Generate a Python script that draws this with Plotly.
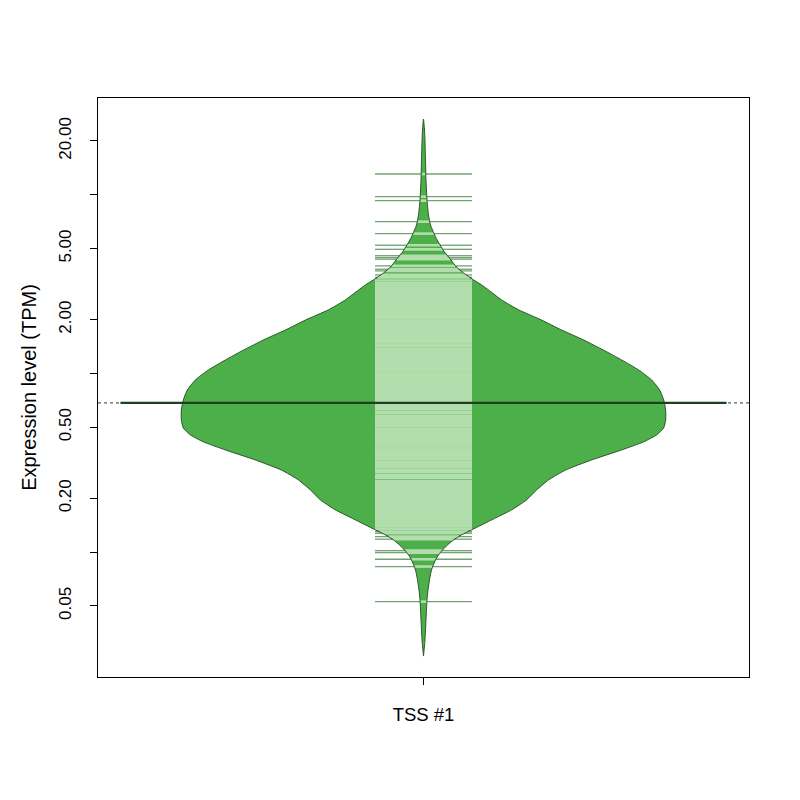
import numpy as np
import plotly.graph_objects as go

# y tick positions (TPM, log axis)
tick_vals = [0.05, 0.1, 0.2, 0.5, 1, 2, 5, 10, 20]
tick_text = ["0.05", "", "0.20", "0.50", "", "2.00", "5.00", "", "20.00"]
category = "TSS #1"

# bean outline: TPM level and half width (density units)
profile_tpm = [26.56, 23.05, 20.0, 15.65, 12.10, 9.35, 7.71, 6.77, 6.35, 5.81,
               5.24, 4.78, 4.32, 3.94, 3.65, 3.34, 3.13, 2.93, 2.58, 2.27,
               1.99, 1.75, 1.54, 1.35, 1.19, 1.046, 0.920, 0.808, 0.711, 0.625,
               0.549, 0.495, 0.453, 0.414, 0.373, 0.328, 0.288, 0.2535, 0.2228, 0.1959,
               0.1722, 0.1553, 0.1419, 0.1331, 0.1248, 0.1170, 0.1097, 0.1028, 0.0965, 0.0904,
               0.0795, 0.0699, 0.0614, 0.0540, 0.0417, 0.0323, 0.0262]
profile_width = [0, 1, 1.5, 2, 2.5, 3.5, 5, 7, 9, 12,
                 16.5, 21, 27.5, 33, 40, 50, 58, 65, 78, 95,
                 118, 138, 160, 180, 198, 215, 228, 236, 240, 242,
                 242, 240, 233, 220, 198, 168, 142, 125, 113, 103,
                 88, 72, 58, 48, 38, 30, 24, 19, 15, 12,
                 8, 6, 4.5, 3.5, 2.5, 1.5, 0]

# individual observations (bean lines), TPM
obs_tpm = [13.07, 9.76, 9.27, 7.07, 6.06, 5.22, 4.95, 4.56, 4.45, 4.36,
           4.00, 3.83, 3.75, 3.56, 3.45, 3.31,
           3.20, 3.12, 3.05, 2.98, 2.90, 2.84, 2.77, 2.70, 2.64, 2.58,
           2.52, 2.46, 2.40, 2.35, 2.29, 2.24, 2.18, 2.13, 2.08, 2.03,
           1.98, 1.94, 1.89, 1.85, 1.80, 1.76, 1.72, 1.68, 1.64, 1.60,
           1.56, 1.52, 1.49, 1.45, 1.42, 1.38, 1.35, 1.32, 1.29, 1.26,
           1.23, 1.20, 1.17, 1.14, 1.12, 1.09, 1.06, 1.04, 1.01, 0.99,
           0.97, 0.94, 0.92, 0.90, 0.88, 0.86, 0.84, 0.82, 0.80, 0.78,
           0.76, 0.74, 0.72, 0.71, 0.69, 0.67, 0.66, 0.64, 0.63, 0.61,
           0.60, 0.58, 0.57, 0.555, 0.54, 0.53, 0.515, 0.505, 0.49, 0.48,
           0.47, 0.46, 0.45, 0.44, 0.43, 0.42, 0.41, 0.40, 0.39, 0.38,
           0.37, 0.36, 0.355, 0.345, 0.335, 0.33, 0.32, 0.31, 0.305, 0.30,
           0.29, 0.285, 0.28, 0.27, 0.265, 0.26, 0.25, 0.245, 0.24, 0.235,
           0.23, 0.225, 0.22, 0.215, 0.21, 0.205, 0.20, 0.195, 0.19, 0.186,
           0.182, 0.178, 0.174, 0.170, 0.166, 0.162, 0.158, 0.155, 0.151, 0.148,
           0.145, 0.142, 0.139,
           0.1349, 0.1302, 0.1275, 0.1221, 0.1181, 0.1019, 0.0994, 0.0912, 0.0830, 0.0528]

mean_tpm = 0.684

bean_fill = "#4DAF4A"
bean_border = "#1f4a1f"
line_inside = "rgb(178,221,172)"
line_outside = "rgba(20,100,20,0.6)"
avg_color = "#1f401f"

max_half = 0.372      # widest half of the bean, x units
beanline_half = 0.0745
avg_half = 0.4655
xc = 1.0

w = np.array(profile_width) / max(profile_width) * max_half
bx = list(xc - w) + list(xc + w[::-1])
by = list(profile_tpm) + list(profile_tpm[::-1])

# width of the bean at each observation, interpolated on log scale
lp = np.log10(profile_tpm)[::-1]
obs_w = np.interp(np.log10(obs_tpm), lp, w[::-1])

in_x, in_y, out_x, out_y = [], [], [], []
for v, ow in zip(obs_tpm, obs_w):
    m = min(ow, beanline_half)
    in_x += [xc - m, xc + m, None]
    in_y += [v, v, None]
    if ow < beanline_half:
        out_x += [xc - beanline_half, xc - m, None, xc + m, xc + beanline_half, None]
        out_y += [v, v, None, v, v, None]

fig = go.Figure()
fig.add_trace(go.Scatter(x=[0.5, 1.5], y=[mean_tpm, mean_tpm], mode="lines",
                         line=dict(color="#333333", width=1, dash="dot"),
                         hoverinfo="skip"))
fig.add_trace(go.Scatter(x=bx, y=by, fill="toself", fillcolor=bean_fill,
                         mode="lines", line=dict(width=0, color=bean_fill, shape="spline", smoothing=0.5),
                         hoverinfo="skip"))
fig.add_trace(go.Scatter(x=in_x, y=in_y, mode="lines",
                         line=dict(color=line_inside, width=2.6), hoverinfo="skip"))
fig.add_trace(go.Scatter(x=out_x, y=out_y, mode="lines",
                         line=dict(color=line_outside, width=1.3), hoverinfo="skip"))
fig.add_trace(go.Scatter(x=bx, y=by, mode="lines",
                         line=dict(color=bean_border, width=0.9, shape="spline", smoothing=0.5),
                         hoverinfo="skip"))
fig.add_trace(go.Scatter(x=[xc - avg_half, xc + avg_half], y=[mean_tpm, mean_tpm], mode="lines",
                         line=dict(color=avg_color, width=2.2), hoverinfo="skip"))

font_family = "Liberation Sans, Arial, sans-serif"

# page body adds 8px, so margins are shifted to keep the box at 98..749 / 98..677
fig.update_layout(
    width=800, height=800,
    margin=dict(l=90, r=59, t=90, b=131),
    plot_bgcolor="white", paper_bgcolor="white",
    showlegend=False,
    font=dict(family=font_family, size=17, color="black"),
)
fig.update_xaxes(range=[0.5, 1.5], tickvals=[xc], ticktext=[category],
                 tickfont=dict(family=font_family, size=18.5), ticklabelstandoff=14,
                 ticks="outside", ticklen=7, tickcolor="black",
                 showline=True, linecolor="black", linewidth=1, mirror=True,
                 showgrid=False, zeroline=False)
fig.update_yaxes(type="log", range=[np.log10(0.02), np.log10(34.8)],
                 tickvals=tick_vals, ticktext=tick_text, tickangle=-90,
                 tickfont=dict(family=font_family, size=17), ticklabelstandoff=12,
                 ticks="outside", ticklen=7, tickcolor="black",
                 showline=True, linecolor="black", linewidth=1, mirror=True,
                 showgrid=False, zeroline=False,
                 title=dict(text="Expression level (TPM)", standoff=14))

fig.write_html("out.html")
